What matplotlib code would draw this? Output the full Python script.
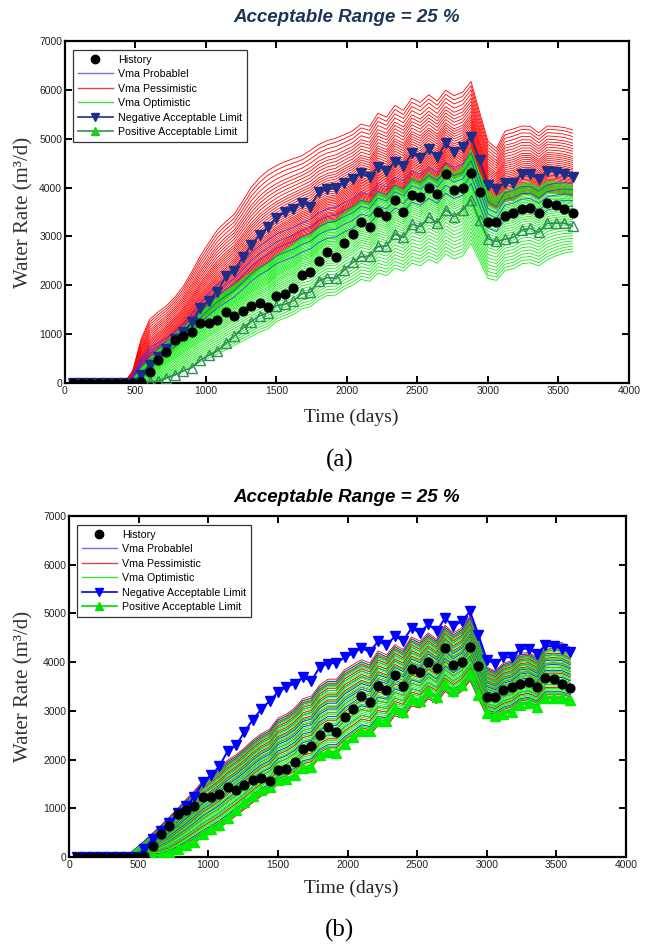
"""Water rate history match: ensemble runs vs +/-25 % acceptable limits, panels (a) and (b)."""

import numpy as np
import matplotlib.pyplot as plt
from matplotlib.lines import Line2D

plt.rcParams["font.family"] = ["Liberation Sans", "DejaVu Sans"]

# --- data ------------------------------------------------------------------

days = np.arange(60, 3601, 60)

history = [0, 0, 0, 0, 0, 0, 0, 0, 20,
           220, 470, 630, 880, 960, 1040, 1235, 1235, 1290, 1445,
           1380, 1480, 1585, 1630, 1560, 1790, 1815, 1940, 2210, 2280,
           2500, 2675, 2570, 2870, 3045, 3300, 3190, 3505, 3425, 3745,
           3505, 3850, 3800, 4000, 3870, 4280, 3950, 4000, 4305, 3915,
           3290, 3290, 3425, 3480, 3555, 3590, 3480, 3675, 3645, 3555,
           3470]

neg_limit = [0, 0, 0, 0, 0, 0, 0, 0,
             165, 370, 540, 690, 900, 1040, 1240, 1530, 1680, 1860, 2180,
             2290, 2570, 2820, 3030, 3200, 3385, 3490, 3560, 3690, 3610,
             3900, 3970, 3985, 4100, 4180, 4290, 4210, 4430, 4345, 4530,
             4440, 4700, 4600, 4780, 4630, 4905, 4735, 4835, 5040, 4565,
             4050, 3965, 4100, 4100, 4275, 4275, 4170, 4345, 4325, 4275,
             4210]

pos_limit = [0, 0, 0, 0, 0, 0, 0, 0, 0,
             25, 40, 110, 165, 250, 315, 470, 565, 660, 810,
             960, 1120, 1255, 1380, 1440, 1585, 1610, 1680, 1835, 1855,
             2095, 2155, 2140, 2315, 2470, 2590, 2590, 2800, 2800, 3050,
             2980, 3250, 3200, 3400, 3280, 3550, 3400, 3540, 3750, 3330,
             2950, 2900, 2940, 2980, 3130, 3165, 3080, 3270, 3270, 3270,
             3215]

# panel (a): envelopes of the pessimistic (red) and optimistic (green) runs
red_hi_a = [0, 0, 0, 0, 0, 0, 0,
            250, 900, 1300, 1450, 1580, 1760, 1980, 2280, 2600, 2870,
            3130, 3300, 3450, 3720, 4000, 4200, 4350, 4450, 4530, 4590,
            4650, 4760, 4880, 4960, 5010, 5080, 5160, 5300, 5250, 5520,
            5440, 5680, 5580, 5830, 5740, 5900, 5770, 5990, 5880, 5950,
            6170, 5550, 4950, 4800, 5150, 5200, 5260, 5250, 5120, 5260,
            5250, 5230, 5180]

red_lo_a = [0, 0, 0, 0, 0, 0, 0, 0,
            60, 250, 400, 560, 720, 880, 1050, 1230, 1400, 1560,
            1720, 1870, 2030, 2180, 2330, 2450, 2600, 2720, 2840, 2960,
            3000, 3180, 3280, 3300, 3450, 3560, 3700, 3640, 3850, 3780,
            3980, 3890, 4120, 4040, 4200, 4080, 4330, 4180, 4260, 4480,
            4050, 3650, 3560, 3720, 3740, 3850, 3870, 3760, 3900, 3890,
            3860, 3820]

green_hi_a = [0, 0, 0, 0, 0, 0, 0,
              80, 300, 500, 680, 850, 1000, 1150, 1300, 1450, 1600,
              1740, 1880, 2000, 2130, 2260, 2380, 2460, 2620, 2720, 2830,
              2980, 3030, 3200, 3320, 3330, 3480, 3600, 3760, 3700, 3920,
              3850, 4060, 3960, 4200, 4120, 4300, 4180, 4450, 4300, 4400,
              4780, 4300, 3900, 3800, 3940, 3970, 4080, 4100, 3990, 4130,
              4120, 4090, 4030]

green_lo_a = [0, 0, 0, 0, 0, 0, 0, 0, 0, 0,
              20, 80, 160, 250, 340, 430, 510, 590, 680, 770,
              860, 950, 1040, 1110, 1260, 1330, 1400, 1520, 1560, 1700,
              1790, 1800, 1920, 2000, 2120, 2080, 2250, 2200, 2350, 2290,
              2450, 2400, 2530, 2450, 2640, 2540, 2600, 2860, 2500, 2140,
              2100, 2300, 2340, 2440, 2460, 2400, 2520, 2600, 2660, 2690]

# position of each run inside its envelope (0 = lower edge, 1 = upper edge)
red_frac_a = [0.00, 0.015, 0.03, 0.045, 0.06, 0.075, 0.09, 0.105, 0.12, 0.14,
              0.16, 0.18, 0.20, 0.22, 0.24, 0.26, 0.28, 0.30, 0.32, 0.345,
              0.37, 0.395, 0.42, 0.45, 0.48, 0.51, 0.54, 0.57, 0.60, 0.64,
              0.68, 0.72, 0.76, 0.80, 0.85, 0.90, 0.95, 1.00]
green_frac_a = [1.00, 0.985, 0.97, 0.955, 0.94, 0.925, 0.91, 0.895, 0.88, 0.86,
                0.84, 0.82, 0.80, 0.78, 0.76, 0.74, 0.72, 0.70, 0.68, 0.655,
                0.63, 0.605, 0.58, 0.55, 0.52, 0.49, 0.46, 0.43, 0.40, 0.36,
                0.32, 0.28, 0.24, 0.20, 0.16, 0.12, 0.08, 0.04, 0.00]
# probable (blue) runs sit between green_lo_a and red_hi_a
blue_frac_a = [0.37, 0.42, 0.47, 0.51, 0.56]

# panel (b): one envelope holds all three groups
band_hi_b = [0, 0, 0, 0, 0, 0,
             30, 180, 330, 490, 650, 820, 1000, 1180, 1360, 1560,
             1680, 1820, 1990, 2100, 2240, 2400, 2530, 2620, 2850, 2930,
             3060, 3250, 3300, 3530, 3650, 3650, 3850, 3950, 4050, 3980,
             4230, 4150, 4360, 4260, 4520, 4430, 4600, 4470, 4760, 4600,
             4700, 4950, 4550, 3900, 3820, 3980, 4030, 4180, 4200, 4100,
             4400, 4420, 4400, 4300]

band_lo_b = [0, 0, 0, 0, 0, 0, 0, 0, 0, 0, 0,
             30, 110, 200, 300, 400, 500, 600, 720, 850, 980,
             1120, 1250, 1330, 1500, 1560, 1650, 1800, 1840, 2030, 2120,
             2120, 2280, 2400, 2530, 2500, 2700, 2680, 2900, 2850, 3100,
             3060, 3250, 3150, 3400, 3280, 3400, 3620, 3250, 2900, 2850,
             2950, 3000, 3120, 3150, 3080, 3250, 3250, 3250, 3200]

green_frac_b = [0.00, 0.025, 0.05, 0.075, 0.10, 0.125, 0.15, 0.175, 0.20, 0.225,
                0.25, 0.275, 0.30, 0.325, 0.35, 0.375, 0.40, 0.425, 0.45, 0.475,
                0.50, 0.525, 0.55, 0.575, 0.60, 0.625, 0.65, 0.675, 0.70, 0.725,
                0.75, 0.775, 0.80, 0.825, 0.85, 0.875, 0.90, 0.925, 0.95, 0.975]
red_frac_b = [0.00, 0.08, 0.20, 0.33, 0.45, 0.55, 0.63, 0.72, 0.80, 0.88, 0.94, 1.00]
blue_frac_b = [0.03, 0.12, 0.25, 0.38, 0.50, 0.60, 0.68, 0.77, 0.85, 0.92, 0.97]

TITLE = "Acceptable Range = 25 %"
SERIF = ["Liberation Serif", "DejaVu Serif"]


# --- helpers ---------------------------------------------------------------

def draw_runs(ax, lo, hi, fracs, color, lw=0.6):
    lo, hi = np.asarray(lo, float), np.asarray(hi, float)
    for f in fracs:
        ax.plot(days, lo + f * (hi - lo), color=color, lw=lw, zorder=2)


def style_axes(ax):
    ax.set_xlim(0, 4000)
    ax.set_ylim(0, 7000)
    ax.set_xticks(np.arange(0, 4001, 500))
    ax.set_yticks(np.arange(0, 7001, 1000))
    ax.tick_params(direction="in", top=True, right=True, length=5, width=1.4,
                   labelsize=7.5, pad=2, labelcolor="#222222")
    for sp in ax.spines.values():
        sp.set_linewidth(1.6)


def add_legend(ax, neg_color, neg_face, pos_line, pos_face):
    handles = [
        Line2D([], [], ls="none", marker="o", ms=6, color="black"),
        Line2D([], [], color="#6f6fe8", lw=1.0),
        Line2D([], [], color="#e04040", lw=1.0),
        Line2D([], [], color="#40e040", lw=1.0),
        Line2D([], [], color=neg_color, lw=1.2, marker="v", ms=6, mfc=neg_face, mec=neg_face),
        Line2D([], [], color=pos_line, lw=1.2, marker="^", ms=6, mfc=pos_face, mec=pos_face),
    ]
    labels = ["History", "Vma Probablel", "Vma Pessimistic", "Vma Optimistic",
              "Negative Acceptable Limit", "Positive Acceptable Limit"]
    leg = ax.legend(handles, labels, loc="upper left", bbox_to_anchor=(0.014, 0.974),
                    borderaxespad=0, fontsize=7.7, handlelength=3.3, handletextpad=0.5,
                    labelspacing=0.42, borderpad=0.45, fancybox=False, framealpha=1)
    leg.get_frame().set_edgecolor("#333333")
    leg.get_frame().set_linewidth(0.9)
    leg.set_zorder(10)


# --- figure ----------------------------------------------------------------

fig = plt.figure(figsize=(6.51, 9.48), dpi=100)

# (a)
ax = fig.add_axes([0.0998, 0.596, 0.8664, 0.3608])
draw_runs(ax, red_lo_a, red_hi_a, red_frac_a, "#ff0000")
draw_runs(ax, green_lo_a, green_hi_a, green_frac_a, "#11ee11")
draw_runs(ax, green_lo_a, red_hi_a, blue_frac_a, "#3030ff", lw=0.5)
ax.plot(days, neg_limit, color="#1b2f8a", lw=1.3, marker="v", ms=6.5,
        mfc="#1b2f8a", mec="#1b2f8a", zorder=4)
ax.plot(days, pos_limit, color="#2f8f55", lw=1.2, marker="^", ms=6.5,
        mfc="none", mec="#2f8f55", zorder=4)
ax.plot(days, history, ls="none", marker="o", ms=6.3, color="black", zorder=5)
style_axes(ax)
add_legend(ax, "#1b2f8a", "#1b2f8a", "#2f8f55", "#22cc22")

# (b)
bx = fig.add_axes([0.106, 0.096, 0.8556, 0.3597])
draw_runs(bx, band_lo_b, band_hi_b, green_frac_b, "#11ee11")
draw_runs(bx, band_lo_b, band_hi_b, red_frac_b, "#ff0000")
draw_runs(bx, band_lo_b, band_hi_b, blue_frac_b, "#2020ff")
draw_runs(bx, band_lo_b, band_hi_b, green_frac_b[1::3], "#11ee11")
bx.plot(days, neg_limit, color="#0000ff", lw=1.4, marker="v", ms=6.5,
        mfc="#0000ff", mec="#0000ff", zorder=4)
bx.plot(days, pos_limit, color="#00ee00", lw=1.4, marker="^", ms=6.5,
        mfc="#00ee00", mec="#00ee00", zorder=4)
bx.plot(days, history, ls="none", marker="o", ms=6.3, color="black", zorder=5)
style_axes(bx)
add_legend(bx, "#0000ff", "#0000ff", "#00dd00", "#00dd00")

# titles and labels
fig.text(0.533, 0.982, TITLE, ha="center", va="center", fontsize=13.5,
         fontweight="bold", fontstyle="italic", color="#1c3557")
fig.text(0.533, 0.4757, TITLE, ha="center", va="center", fontsize=13.5,
         fontweight="bold", fontstyle="italic", color="black")

for y in (0.776, 0.276):
    fig.text(0.036, y, "Water Rate (m³/d)", rotation=90, ha="center", va="center",
             fontsize=15, family=SERIF, color="#333333")

fig.text(0.539, 0.560, "Time (days)", ha="center", va="center", fontsize=14,
         family=SERIF, color="#222222")
fig.text(0.539, 0.063, "Time (days)", ha="center", va="center", fontsize=14,
         family=SERIF, color="#222222")
fig.text(0.522, 0.514, "(a)", ha="center", va="center", fontsize=18, family=SERIF)
fig.text(0.522, 0.019, "(b)", ha="center", va="center", fontsize=18, family=SERIF)

fig.savefig("out.png", dpi=100)
